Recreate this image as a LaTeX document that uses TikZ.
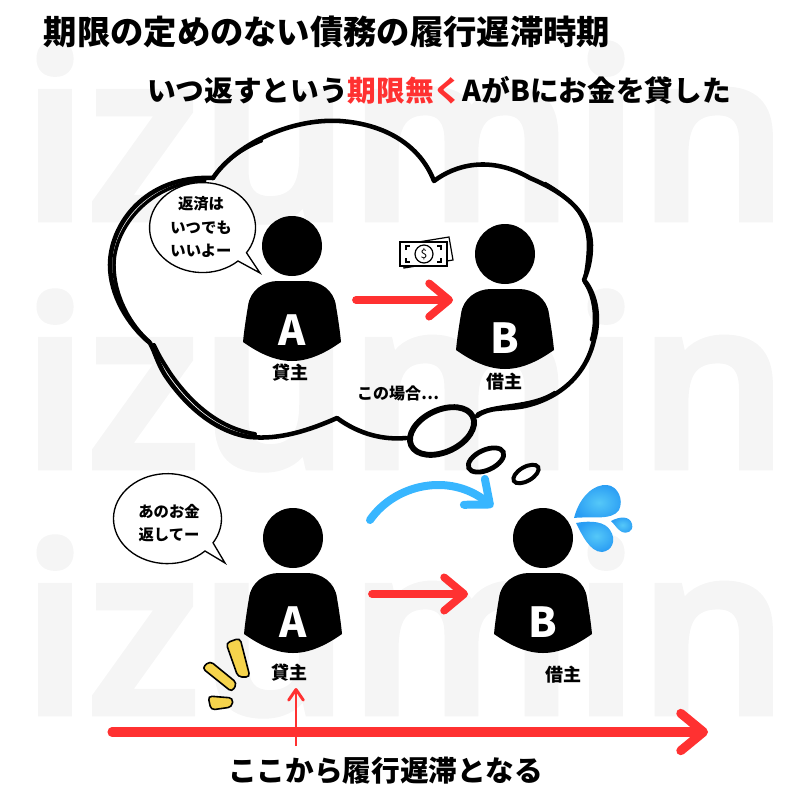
\documentclass[tikz,border=0pt]{standalone}
\usepackage{fontspec}
\usepackage{xcolor}
\setmainfont{Noto Sans CJK JP}
\newfontfamily\wmfont[FakeBold=2.9]{Open Sans Semibold}
\usetikzlibrary{arrows.meta}

\definecolor{wmgray}{HTML}{F5F5F5}
\definecolor{arrowred}{HTML}{FF3131}
\definecolor{arrowblue}{HTML}{38B6FF}
\definecolor{dropblue}{HTML}{2A9DF4}
\definecolor{droplight}{HTML}{55C8F8}
\definecolor{sparkyellow}{HTML}{F6D44C}

\tikzset{
  watermark/.style={anchor=base west,inner sep=0pt,text=wmgray,font=\fontsize{176}{176}\selectfont\wmfont},
  titletext/.style={inner sep=0.75pt,font=\fontsize{25}{30}\selectfont\bfseries},
  subtext/.style={inner sep=0.75pt,font=\fontsize{21.5}{26}\selectfont\bfseries},
  roletext/.style={inner sep=0.75pt,font=\fontsize{13.5}{16}\selectfont\bfseries},
  talktext/.style={inner sep=0.75pt,align=center,font=\fontsize{11.5}{17.6}\selectfont\bfseries},
  letter/.style={inner sep=0pt,text=white,font=\fontsize{31}{36}\selectfont\bfseries},
  bubble/.style={draw=black,line width=1pt,fill=white,line join=miter},
  cloudline/.style={draw=black,line width=3.4pt,line cap=round,line join=round},
  redarrow/.style={draw=arrowred,line width=5.8pt,line cap=round,-{Straight Barb[round,length=15pt,width=25pt]}},
  spark/.style={draw=black,line width=1.2pt,fill=sparkyellow,rounded corners=3pt},
  drop/.style={inner color=droplight,outer color=dropblue},
  person/.pic={
    \begin{scope}[yscale=-1]
    \fill (0,0) circle [radius=30];
    \fill (-49,96) .. controls (-48,85) and (-46,72) .. (-44,60) .. controls (-42,44) and (-28,35) .. (-14,35) -- (14,35) .. controls (28,35) and (42,44) .. (44,60) .. controls (46,72) and (48,85) .. (49,96) .. controls (32,108) and (16,115) .. (0,115) .. controls (-16,115) and (-32,108) .. (-49,96) -- cycle;
    \end{scope}
  }
}

\begin{document}
\begin{tikzpicture}[x=0.75pt,y=0.75pt,yscale=-1,xscale=1]
\useasboundingbox (0,0) rectangle (800,800);

% background letters
\node (wmtop) [watermark] at (22,219) {izumin};
\node (wmmid) [watermark] at (22,467) {izumin};
\node (wmlow) [watermark] at (22,713) {izumin};

\node (title) [titletext] at (327,32) {期限の定めのない債務の履行遅滞時期};
\node (subtitle) [subtext] at (439,90) {いつ返すという\textcolor{arrowred}{期限無く}AがBにお金を貸した};

% cloud
\draw [cloudline] (213,178) .. controls (235,145) and (290,118) .. (340,121) .. controls (385,124) and (420,145) .. (434,181)
  .. controls (455,165) and (490,155) .. (530,178) .. controls (570,195) and (590,215) .. (591,245) .. controls (591,260) and (588,270) .. (584,280)
  .. controls (597,295) and (600,320) .. (594,340) .. controls (586,375) and (560,398) .. (525,406) .. controls (505,410) and (490,406) .. (477,416);
\draw [cloudline] (406,438) .. controls (385,440) and (360,435) .. (337,418)
  .. controls (310,430) and (280,440) .. (250,437) .. controls (215,432) and (185,405) .. (165,375) .. controls (157,362) and (155,352) .. (150,343)
  .. controls (128,325) and (110,295) .. (110,265) .. controls (110,225) and (145,175) .. (213,178);
% second passes of the pen
\draw [cloudline,line width=2.6pt] (150,342) .. controls (130,325) and (114,295) .. (114,265) .. controls (114,228) and (150,182) .. (205,181);
\draw [cloudline,line width=3pt] (154,345) .. controls (160,358) and (165,365) .. (170,373) .. controls (190,402) and (218,428) .. (255,434);
\draw [cloudline,line width=2pt] (213,178) .. controls (225,160) and (245,148) .. (262,141);
\draw [cloudline,line width=2pt] (545,183) .. controls (572,198) and (588,218) .. (588,245) .. controls (588,258) and (586,270) .. (584,280);
\draw [cloudline,line width=2pt] (584,282) .. controls (594,296) and (597,320) .. (591,340);
\draw [cloudline,line width=2pt] (477,414) .. controls (495,403) and (530,408) .. (555,392);
\draw [draw=black,line width=4.4pt] (442,431) ellipse [x radius=34,y radius=21,rotate=-25];
\draw [draw=black,line width=3.6pt] (486,460) ellipse [x radius=19,y radius=10,rotate=-25];
\draw [draw=black,line width=3pt] (526,474) ellipse [x radius=14,y radius=7,rotate=-30];

% upper scene
\pic at (292,246) {person};
\pic at (505,254) {person};
\node (letterA) [letter] at (292,330) {A};
\node (letterB) [letter] at (505,338) {B};
\node (roleA) [roletext] at (290,373) {貸主};
\node (roleB) [roletext] at (504,382) {借主};
\node (thiscase) [roletext,font=\fontsize{12}{14}\selectfont\bfseries] at (398,393) {この場合⋯};

\draw [bubble] (238,261) arc [x radius=53,y radius=45,start angle=48,end angle=394] -- (260,273) -- cycle;
\node (talkA) [talktext] at (201,227) {返済は\\いつでも\\いいよー};

\coordinate (payfrom) at (356,300);
\coordinate (payto) at (453,300);
\draw [redarrow] (payfrom) -- (payto);

% money
\draw [line width=0.9pt,fill=white] (404,268) -- (453,260) -- (449,237) -- (400,245) -- cycle;
\draw [line width=0.9pt,fill=white] (400,242) rectangle (447,266);
\draw [line width=0.9pt] (406,250) -- (406,246) -- (410,246) (441,250) -- (441,246) -- (437,246) (406,258) -- (406,262) -- (410,262) (441,258) -- (441,262) -- (437,262);
\node (bill) [draw,circle,line width=0.9pt,minimum size=13.5pt,inner sep=0pt,font=\fontsize{9}{9}\selectfont] at (424,254) {\$};

% lower scene
\pic at (293,538) {person};
\pic at (543,538) {person};
\node (letterAlow) [letter] at (293,622) {A};
\node (letterBlow) [letter] at (543,622) {B};
\node (roleAlow) [roletext] at (289,673) {貸主};
\node (roleBlow) [roletext] at (563,675) {借主};

\draw [bubble] (205,551) arc [x radius=54,y radius=45,start angle=46,end angle=392.5] -- (225,563) -- cycle;
\node (talkB) [talktext] at (169,523) {あのお金\\返してー};

\coordinate (backfrom) at (372,594);
\coordinate (backto) at (468,594);
\draw [redarrow] (backfrom) -- (backto);

\coordinate (curvefrom) at (370,520);
\coordinate (curveto) at (493,507);
\draw [draw=arrowblue,line width=6pt,line cap=round,-{Straight Barb[round,length=15pt,width=25pt]}] (curvefrom) .. controls (395,484) and (450,472) .. (curveto);

% sweat
\shade [drop] (574,518) .. controls (580,495) and (595,484) .. (607,485) .. controls (618,486) and (624,500) .. (619,510) .. controls (612,521) and (590,516) .. (574,518) -- cycle;
\shade [drop] (576,523) .. controls (592,520) and (605,522) .. (610,530) .. controls (617,540) and (612,551) .. (602,552) .. controls (590,552) and (582,535) .. (576,523) -- cycle;
\shade [drop] (611,521) .. controls (620,516) and (630,516) .. (632,524) .. controls (634,532) and (626,534) .. (622,532) .. controls (618,530) and (615,525) .. (611,521) -- cycle;

% yellow marks
\draw [spark] (226,643) -- (240,638) -- (250,677) -- (238,677) -- cycle;
\draw [spark] (202,668) -- (210,661) -- (237,683) -- (232,692) -- cycle;
\draw [spark] (208,696) -- (233,698) -- (232,707) -- (211,710) -- cycle;

% time line
\coordinate (linefrom) at (112,732);
\coordinate (lineto) at (708,732);
\draw [draw=arrowred,line width=6.8pt,line cap=round,-{Straight Barb[round,length=17pt,width=28pt]}] (linefrom) -- (lineto);
\coordinate (markfrom) at (296,746);
\coordinate (markto) at (296,688);
\draw [draw=arrowred,line width=2.2pt,-{Straight Barb[round,length=8pt,width=11pt]}] (markfrom) -- (markto);

\node (delay) [subtext,font=\fontsize{21.5}{26}\selectfont\bfseries] at (385.5,771) {ここから履行遅滞となる};

\end{tikzpicture}
\end{document}
